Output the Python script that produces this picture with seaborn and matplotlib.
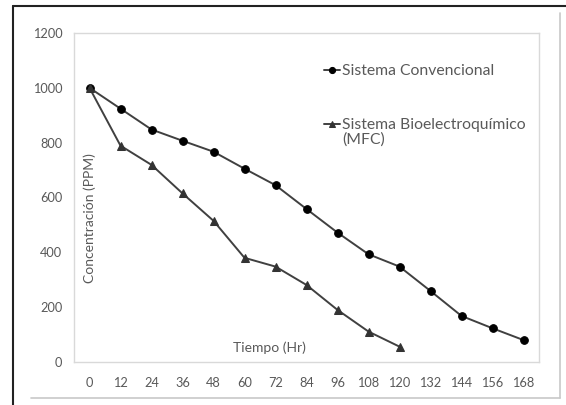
import pandas as pd
import seaborn as sns
import matplotlib.pyplot as plt
from matplotlib.lines import Line2D

# Datos
horas = [0, 12, 24, 36, 48, 60, 72, 84, 96, 108, 120, 132, 144, 156, 168]
convencional = [1000, 924, 848, 807, 767, 705, 645, 558, 472, 393, 348, 259, 168, 123, 80]
mfc = [1000, 789, 719, 615, 515, 380, 348, 281, 190, 111, 56]

df_conv = pd.DataFrame({'hora': horas, 'ppm': convencional})
df_mfc = pd.DataFrame({'hora': horas[:len(mfc)], 'ppm': mfc})

sns.set_style('white')
plt.rcParams['font.family'] = ['Lato', 'DejaVu Sans']

gris_texto = '#595959'
gris_linea = '#404040'

fig = plt.figure(figsize=(5.66, 4.05), dpi=100)
ax = fig.add_axes([74 / 566, 1 - 362 / 405, 465 / 566, 329 / 405])

sns.lineplot(data=df_conv, x='hora', y='ppm', ax=ax, color=gris_linea, linewidth=1.4,
             marker='o', markersize=5.5, markerfacecolor='black', markeredgecolor='black',
             label='Sistema Convencional')
sns.lineplot(data=df_mfc, x='hora', y='ppm', ax=ax, color=gris_linea, linewidth=1.4,
             marker='^', markersize=5.5, markerfacecolor='#333333', markeredgecolor='#333333',
             label='Sistema Bioelectroquímico')

ax.set_xlim(-6, 174)
ax.set_ylim(0, 1200)
ax.set_xticks(horas)
ax.set_yticks(range(0, 1201, 200))
ax.tick_params(axis='both', length=0, labelsize=9.2, labelcolor=gris_texto)
ax.tick_params(axis='x', pad=10.5)
ax.tick_params(axis='y', pad=8.5)
for s in ax.spines.values():
    s.set_color('#d9d9d9')
    s.set_linewidth(1)

ax.set_xlabel('Tiempo (Hr)', fontsize=10, color=gris_texto)
ax.set_ylabel('Concentración (PPM)', fontsize=10, color=gris_texto)
ax.xaxis.set_label_coords(0.42, 0.043)
ax.yaxis.set_label_coords(0.034, 0.438)
ax.xaxis.label.set_va('center')
ax.yaxis.label.set_va('center')

leg = ax.legend(loc='upper left', bbox_to_anchor=(324 / 566, 1 - 64 / 405),
                bbox_transform=fig.transFigure, frameon=False, fontsize=11.3,
                handlelength=1.0, handletextpad=0.13, labelspacing=2.55,
                borderpad=0, borderaxespad=0, markerscale=0.8)
for t in leg.get_texts():
    t.set_color(gris_texto)
fig.text(342 / 566, 1 - 140 / 405, '(MFC)', fontsize=11.3, color=gris_texto,
         ha='left', va='center')

# Marco exterior
fig.add_artist(Line2D([13 / 566, 1], [1 - 6 / 405] * 2, transform=fig.transFigure,
                      color='#222222', linewidth=1.5))
fig.add_artist(Line2D([13 / 566] * 2, [0, 1 - 6 / 405], transform=fig.transFigure,
                      color='#222222', linewidth=1.5))
fig.add_artist(Line2D([560 / 566] * 2, [1 - 398 / 405, 1 - 13 / 405], transform=fig.transFigure,
                      color='#c8c8c8', linewidth=1.2))
fig.add_artist(Line2D([31 / 566, 560 / 566], [1 - 398 / 405] * 2, transform=fig.transFigure,
                      color='#c8c8c8', linewidth=1.2))

fig.savefig('out.png', dpi=100)
